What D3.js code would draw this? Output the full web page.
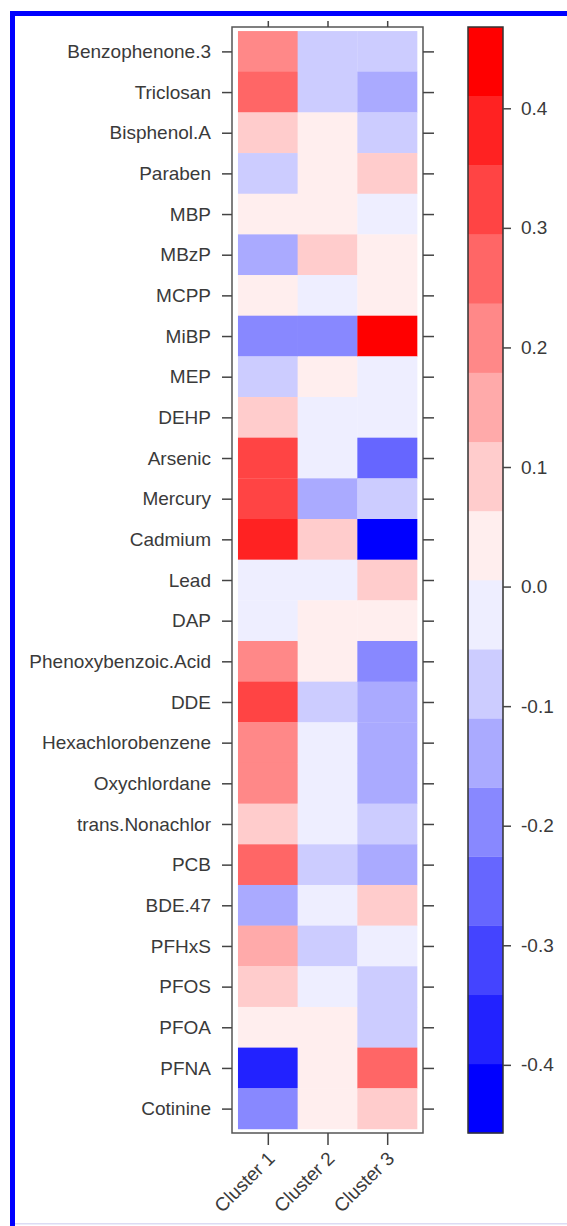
<!DOCTYPE html>
<html><head><meta charset="utf-8">
<script src="https://cdn.jsdelivr.net/npm/d3@7"></script>
<style>html,body{margin:0;padding:0;background:#fff;} svg{display:block;}</style>
</head><body>
<svg id="c" width="567" height="1226"></svg>
<script>
const chemicals = ["Benzophenone.3","Triclosan","Bisphenol.A","Paraben","MBP","MBzP","MCPP","MiBP","MEP","DEHP","Arsenic","Mercury","Cadmium","Lead","DAP","Phenoxybenzoic.Acid","DDE","Hexachlorobenzene","Oxychlordane","trans.Nonachlor","PCB","BDE.47","PFHxS","PFOS","PFOA","PFNA","Cotinine"];
const clusters = ["Cluster 1","Cluster 2","Cluster 3"];
const cluster1 = [0.21,0.27,0.09,-0.08,0.03,-0.14,0.02,-0.20,-0.09,0.10,0.33,0.32,0.38,-0.02,-0.01,0.22,0.33,0.21,0.20,0.09,0.28,-0.15,0.15,0.08,0.03,-0.37,-0.19];
const cluster2 = [-0.08,-0.09,0.02,0.03,0.02,0.09,-0.02,-0.20,0.03,-0.03,-0.02,-0.14,0.09,-0.02,0.02,0.03,-0.08,-0.03,-0.02,-0.02,-0.07,-0.03,-0.08,-0.02,0.02,0.03,0.03];
const cluster3 = [-0.08,-0.14,-0.09,0.10,-0.02,0.03,0.02,0.468,-0.02,-0.03,-0.25,-0.08,-0.457,0.09,0.03,-0.20,-0.14,-0.13,-0.14,-0.08,-0.15,0.09,-0.02,-0.08,-0.09,0.27,0.08];
const colorTicks = [0.4,0.3,0.2,0.1,0.0,-0.1,-0.2,-0.3,-0.4];
const nBands = 16;

const series = [cluster1, cluster2, cluster3];
const svg = d3.select("#c");
const textCol = "#3a3a3a", lineCol = "#444";
const font = "'Liberation Sans', Arial, sans-serif";

// frame
svg.append("rect").attr("x",10).attr("y",11).attr("width",5).attr("height",1215).attr("fill","#0000ff");
svg.append("rect").attr("x",10).attr("y",11).attr("width",557).attr("height",5).attr("fill","#0000ff");
svg.append("rect").attr("x",15).attr("y",1223).attr("width",552).attr("height",1.5).attr("fill","#dcdcf4");

const x = d3.scaleLinear().domain([0.4, 3.6]).range([232, 423]);
const y = d3.scaleLinear().domain([0.4, 27.6]).range([27, 1133]);

const allVals = series.flat();
const ext = d3.extent(allVals);
const palette = d3.range(nBands).map(i => {
  const t = i / (nBands - 1);
  return t < 0.5 ? d3.interpolateRgb("#0000ff", "#ffffff")(t * 2) : d3.interpolateRgb("#ffffff", "#ff0000")((t - 0.5) * 2);
});
const color = d3.scaleQuantize().domain(ext).range(palette);

const cells = [];
series.forEach((s, j) => s.forEach((v, i) => cells.push({i, j, v})));
svg.append("g").selectAll("rect").data(cells).join("rect")
  .attr("x", d => x(d.j + 0.5))
  .attr("y", d => y(d.i + 0.5))
  .attr("width", d => x(d.j + 1.5) - x(d.j + 0.5) + 0.3)
  .attr("height", d => y(d.i + 1.5) - y(d.i + 0.5) + 0.3)
  .attr("fill", d => color(d.v));

// panel border
svg.append("rect").attr("x", x(0.4)).attr("y", y(0.4)).attr("width", x(3.6) - x(0.4)).attr("height", y(27.6) - y(0.4))
  .attr("fill", "none").attr("stroke", "#555").attr("stroke-width", 1.5);

function styleAxis(g) {
  g.select(".domain").remove();
  g.selectAll(".tick line").attr("stroke", lineCol).attr("stroke-width", 1.5);
  g.selectAll("text").attr("fill", textCol).style("font-family", font).style("font-size", "19px");
}

const rows = d3.range(1, chemicals.length + 1);
svg.append("g").attr("transform", `translate(${x(0.4)},0)`)
  .call(d3.axisLeft(y).tickValues(rows).tickFormat(i => chemicals[i - 1]).tickSize(10).tickPadding(11))
  .call(styleAxis);
svg.append("g").attr("transform", `translate(${x(3.6)},0)`)
  .call(d3.axisRight(y).tickValues(rows).tickFormat("").tickSize(11))
  .call(styleAxis);
svg.append("g").attr("transform", `translate(0,${y(0.4)})`)
  .call(d3.axisTop(x).tickValues([1,2,3]).tickFormat("").tickSize(6))
  .call(styleAxis);
const bx = svg.append("g").attr("transform", `translate(0,${y(27.6)})`)
  .call(d3.axisBottom(x).tickValues([1,2,3]).tickFormat(i => clusters[i - 1]).tickSize(12))
  .call(styleAxis);
bx.selectAll("text")
  .attr("text-anchor", "end")
  .attr("dy", "0.35em")
  .attr("transform", "translate(3,22) rotate(-45)")
  .attr("y", 0).attr("x", 0);

// color key
const cy = d3.scaleLinear().domain(ext).range([1133, 27]);
const step = (ext[1] - ext[0]) / nBands;
const bands = d3.range(nBands).map(k => ({lo: ext[0] + k * step, hi: ext[0] + (k + 1) * step, c: palette[k]}));
const keyX0 = 468, keyX1 = 503;
svg.append("g").selectAll("rect").data(bands).join("rect")
  .attr("x", keyX0).attr("width", keyX1 - keyX0)
  .attr("y", d => cy(d.hi)).attr("height", d => cy(d.lo) - cy(d.hi) + 0.3)
  .attr("fill", d => d.c);
svg.append("rect").attr("x", keyX0).attr("y", cy(ext[1])).attr("width", keyX1 - keyX0).attr("height", cy(ext[0]) - cy(ext[1]))
  .attr("fill", "none").attr("stroke", "#333").attr("stroke-width", 1.5);
svg.append("g").attr("transform", `translate(${keyX1},0)`)
  .call(d3.axisRight(cy).tickValues(colorTicks).tickFormat(d => d.toFixed(1)).tickSize(8).tickPadding(10))
  .call(styleAxis);
</script>
</body></html>
